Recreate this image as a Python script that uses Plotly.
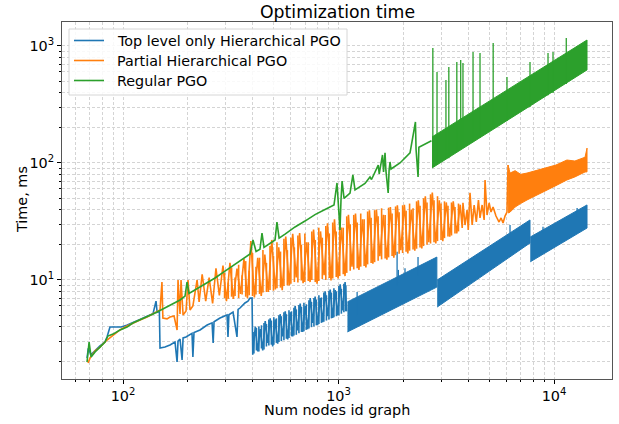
import plotly.graph_objects as go

BLUE = "#1f77b4"
ORANGE = "#ff7f0e"
GREEN = "#2ca02c"

# ---------------- data ----------------
# Top level only Hierarchical PGO (blue): sparse part
blue_x = [68.1, 69.0, 71.1, 74.2, 78.2, 82.5, 84.3, 87.0, 98.0, 104.0, 111, 119.9, 129.3, 137.8,
          142.3, 144, 147.5, 148.5, 156.6, 165.2, 174.3, 178.2, 180, 183.9, 188, 190, 196, 209,
          211, 213.5, 227.7, 245.7, 259, 262, 264.5, 281.9, 304, 307, 310, 324, 338, 342, 349,
          368, 380, 388.6, 397]
blue_y = [2.15, 2.6, 2.3, 2.5, 2.73, 2.95, 3.26, 3.96, 3.96, 4.1, 4.35, 4.6, 4.9, 5.15,
          6.6, 5.3, 5.4, 2.62, 2.67, 2.78, 2.95, 1.99, 3.0, 3.13, 2.07, 3.2, 3.26, 3.5,
          2.2, 3.55, 3.74, 4.12, 4.3, 2.89, 4.4, 4.73, 5.02, 3.26, 5.05, 5.32, 3.26, 5.6, 5.76,
          6.36, 6.6, 7.0, 7.0]
blue_seg1_x = [400, 411, 422, 433, 445, 457, 469, 482, 495, 508, 522, 536, 551, 566, 581, 597,
               613, 629, 646, 664, 682, 700, 719, 739, 759, 779, 800, 822, 844, 867, 891, 915,
               940, 965, 991, 1018, 1045, 1073, 1090]
blue_seg1_y = [2.3, 4.0, 2.45, 3.8, 2.5, 4.45, 2.9, 4.7, 2.7, 4.6, 2.85, 5.1, 3.3, 5.4, 3.1, 5.3,
               3.3, 6.0, 3.7, 6.3, 3.6, 6.0, 3.8, 7.0, 4.3, 7.2, 4.1, 7.0, 4.35, 8.0, 4.9, 8.3,
               4.75, 8.2, 5.0, 9.2, 5.5, 9.6, 5.4]
blue_stroke_x = [405, 416, 427, 439, 451, 463, 475, 488, 501, 515, 529, 543, 558, 573, 589, 605,
                 621, 637, 655, 673, 691, 709, 729, 749, 769, 789, 811, 833, 855, 879, 903, 927,
                 952, 978, 1004, 1031, 1059, 1081]
blue_stroke_lo = [2.35, 2.5, 2.45, 2.6, 2.55, 2.7, 2.75, 2.8, 2.8, 2.9, 2.95, 3.0, 3.05, 3.15,
                  3.2, 3.3, 3.35, 3.4, 3.5, 3.6, 3.65, 3.75, 3.85, 3.95, 4.0, 4.1, 4.2, 4.3, 4.4,
                  4.5, 4.6, 4.7, 4.8, 4.9, 5.0, 5.15, 5.3, 5.4]
blue_stroke_hi = [3.6, 3.9, 4.0, 4.1, 4.3, 4.2, 4.6, 4.5, 4.8, 4.7, 5.0, 4.9, 5.3, 5.1, 5.5, 5.4,
                  5.8, 5.6, 6.1, 5.9, 6.4, 6.2, 6.7, 6.5, 7.0, 6.8, 7.4, 7.1, 7.8, 7.4, 8.1, 7.8,
                  8.5, 8.0, 8.9, 8.4, 9.3, 9.0]
# dense blue bands (lower / upper envelopes)
blue_band2_x = [1100, 1600, 2860]
blue_band2_lo = [3.6, 5.1, 8.7]
blue_band2_hi = [6.5, 9.2, 15.7]
blue_band3_x = [2870, 4500, 7738]
blue_band3_lo = [5.87, 10.4, 20.7]
blue_band3_hi = [10.0, 17.1, 32.6]
blue_band4_x = [7760, 10500, 14230]
blue_band4_lo = [14.3, 19.9, 27.8]
blue_band4_hi = [23.3, 31.9, 43.8]
blue_spike_x = [1220, 1870, 1896, 2035, 2339, 6250, 8890, 12800]
blue_spike_lo = [5.0, 9.0, 9.5, 10.0, 11.0, 25.0, 25.0, 35.0]
blue_spike_hi = [7.9, 17.4, 12.2, 12.6, 15.7, 29.5, 28.5, 41.2]

# Partial Hierarchical PGO (orange)
orange_x = [68.8, 70.3, 74.2, 78.2, 84.3, 89.9, 96.8, 104.4, 111, 119.9, 129.3, 137.8, 144,
            148.5, 151.6, 153.1, 160.1, 165.2, 172.5, 178.2, 180, 183.9, 185.9, 190, 196.1,
            200.3, 204.6, 211, 220.7, 225.5]
orange_y = [1.95, 2.15, 2.48, 2.67, 3.07, 3.39, 3.74, 4.05, 4.29, 4.55, 4.83, 5.12, 5.32,
            5.54, 9.61, 4.73, 4.65, 4.83, 4.92, 3.74, 10.0, 5.12, 10.0, 5.02, 5.43,
            10.0, 5.54, 6.0, 10.0, 6.49]
orange_mid_x = [233, 242, 251, 260.5, 270, 280, 291, 302, 313.5, 325,
                338, 351, 364, 378, 392, 407, 422, 438, 455, 472,
                490, 509, 528, 548, 569, 590, 613, 636, 660, 685,
                711, 738, 766, 795, 825, 857, 889, 923, 958, 995,
                1032, 1072, 1112, 1155, 1199, 1244, 1291, 1340, 1391, 1444,
                1499, 1556, 1615, 1677, 1740, 1806, 1875, 1947, 2021, 2097,
                2177, 2260, 2346, 2435, 2528, 2624, 2724, 2827, 2935, 3046,
                3162, 3282, 3407, 3537, 3671]
orange_mid_y = [11.2, 6.6, 10.5, 6.3, 12.6, 7.4, 13.3, 6.6, 14.0, 6.9,
                12.5, 7.6, 15.2, 7.0, 21.5, 7.1, 15.5, 7.3, 16.5, 7.9,
                22, 8.3, 19, 8.2, 23.5, 9.0, 24.8, 10.5, 25.2, 9.4,
                21, 9.6, 27, 9.3, 26, 11, 30.5, 9.9, 33, 10.3,
                28, 10.8, 36, 13, 37, 12.2, 33, 12.8, 39.5, 13.8,
                40, 16, 36, 14.9, 42, 15.5, 43.5, 18, 44, 16.9,
                40, 17.8, 48, 18.6, 52, 21, 56, 20.5, 48, 21.5,
                46, 23.5, 47, 25, 44]
orange_stroke_x = [296, 308, 319, 331, 344, 357, 371, 385, 399, 414,
                   430, 446, 463, 481, 499, 518, 538, 558, 579, 601,
                   624, 648, 672, 698, 724, 752, 780, 810, 841, 873,
                   906, 940, 976, 1013, 1052, 1092, 1133, 1177, 1221, 1268,
                   1315, 1365, 1417, 1471, 1527, 1585, 1646, 1708, 1773, 1840,
                   1911, 1984, 2059, 2137, 2218, 2303, 2390, 2481, 2575, 2673,
                   2775, 2880, 2990, 3103, 3221, 3344, 3471, 3603]
orange_stroke_lo = [7.0, 6.9, 7.2, 7.3, 7.0, 7.5, 7.2, 7.4, 7.3, 7.5,
                    7.6, 7.8, 7.9, 8.2, 8.1, 8.5, 8.6, 8.9, 9.0, 9.3,
                    9.6, 9.5, 9.9, 9.6, 9.8, 10.0, 9.6, 9.8, 10.2, 10.0,
                    10.4, 10.3, 10.6, 10.8, 11.2, 11.5, 12.0, 12.3, 12.6, 13.0,
                    13.2, 13.6, 14.0, 14.2, 14.6, 15.0, 15.3, 15.6, 16.0, 16.3,
                    16.8, 17.0, 17.4, 17.8, 18.2, 18.5, 19.0, 19.5, 20.0, 20.5,
                    21.0, 21.5, 22.0, 22.8, 23.5, 24.0, 25.0, 26.0]
orange_stroke_hi = [11.5, 9.5, 12.8, 10.5, 13.5, 11, 14.5, 12, 17, 13,
                    15.5, 18, 14, 19.5, 16, 21, 17.5, 22.5, 18, 23,
                    19, 24, 20, 25, 21, 26, 22, 28, 23, 29,
                    25, 31, 26, 33, 28, 35, 30, 36, 31, 37,
                    33, 38.5, 34, 39.5, 35, 41, 36, 41.5, 37, 42.5,
                    38, 43.5, 39, 45, 41, 47, 43, 50, 46, 54,
                    48, 52, 45, 47, 43, 46, 42, 45]
orange_late_x = [3750, 3780, 3864, 3950, 4000, 4076, 4170, 4260, 4360, 4460, 4536, 4640, 4740,
                 4786, 4890, 5000, 5100, 5214, 5380, 5560, 5680, 5800, 5925, 6050, 6120]
orange_late_y = [27.8, 45.6, 29.5, 39.7, 26.8, 55.5, 29.5, 43.75, 31.3, 48.3, 33.9, 43.75, 32.6,
                 71.6, 35.9, 45.6, 38.1, 42.1, 35.2, 31.3, 33.9, 30.7, 35.2, 38.1, 96.1]
orange_band_x = [6120, 6250, 6600, 7000, 7494, 8200, 9290, 10200, 11480, 12500, 13930, 14230]
orange_band_lo = [37.4, 38, 42, 45, 48.3, 53, 58.8, 64, 71.6, 76, 83.8, 84]
orange_band_hi = [96, 82, 86, 80, 82, 86, 92, 96, 106, 104, 112, 134]

# Regular PGO (green)
green_x = [68.1, 69.6, 71.1, 74.2, 78.2, 82.5, 85.1, 89.9, 96.8, 104.4, 111, 119.9, 129.3,
           137.8, 144, 156.6, 168.8, 183.9, 194, 198.2, 202.4, 215.8, 240.2, 267.3, 297.4,
           331, 368, 388.6, 401, 414.5, 432, 441.6, 451, 481, 507.6, 518, 530, 565, 628.5,
           699, 778, 866, 953, 984, 1000, 1016, 1027, 1039, 1061, 1131, 1166, 1193, 1327,
           1400, 1423, 1529, 1545, 1600, 1618, 1644, 1660, 1700, 1717, 1734, 1752, 1929,
           2147, 2275, 2290, 2340, 2360, 2700]
green_y = [1.99, 2.95, 2.20, 2.43, 2.67, 2.95, 3.32, 3.45, 3.74, 3.96, 4.29, 4.55, 4.83,
           5.12, 5.32, 5.76, 6.24, 6.75, 7.29, 9.61, 7.67, 8.21, 9.24, 10.4, 11.9,
           13.6, 15.6, 16.7, 22.0, 17.5, 18.3, 25.2, 19.0, 20.5, 22.0, 31.3, 22.8, 24.7, 28.4,
           31.9, 36.2, 40.0, 43.75, 67.5, 46.4, 26.8, 48.3, 70.0, 49.8, 55.4, 79.0, 58.8, 66.9,
           75.9, 72.3, 96.0, 80.6, 117, 84.0, 122, 85.5, 55.5, 87.1, 102, 88.8, 100,
           122, 224, 131, 75.9, 136, 155]
green_band_x = [2716, 6200, 14230]
green_band_lo = [90.6, 237, 624]
green_band_hi = [167, 432, 1125]
green_spike_x = [2740, 2865, 3152, 3250, 3540, 3690, 3780, 4210, 4536, 5220, 6050, 7738, 9380, 9895, 11400]
green_spike_lo = [92.5, 96, 108, 110, 124, 132, 136, 151, 164, 203, 229, 301, 380, 397, 473]
green_spike_hi = [961, 600, 512, 662, 730, 759, 716, 889, 872, 1061, 543, 730, 872, 889, 1170]

x_minor = [60, 70, 80, 90, 200, 300, 400, 500, 600, 700, 800, 900,
           2000, 3000, 4000, 5000, 6000, 7000, 8000, 9000]
y_minor = [2, 3, 4, 5, 6, 7, 8, 9, 20, 30, 40, 50, 60, 70, 80, 90,
           200, 300, 400, 500, 600, 700, 800, 900]
x_major = [100, 1000, 10000]
y_major = [10, 100, 1000]
legend_names = ["Top level only Hierarchical PGO", "Partial Hierarchical PGO", "Regular PGO"]
legend_colors = [BLUE, ORANGE, GREEN]

# ---------------- figure ----------------
W, H = 619, 424
L, R, T, B = 62, 7, 22, 45
PW, PH = W - L - R, H - T - B
LW = 1.6
fig = go.Figure()


def band(xs, lo, hi, color):
    return go.Scatter(x=xs + xs[::-1], y=hi + lo[::-1], mode="lines", fill="toself",
                      fillcolor=color, line=dict(color=color, width=1),
                      showlegend=False, hoverinfo="skip")


def spikes(xs, lo, hi, color, width=1.3):
    sx, sy = [], []
    for a, b, c in zip(xs, lo, hi):
        sx += [a, a, None]
        sy += [b, c, None]
    return go.Scatter(x=sx, y=sy, mode="lines", line=dict(color=color, width=width),
                      showlegend=False, hoverinfo="skip")


# blue
fig.add_trace(spikes(blue_stroke_x, blue_stroke_lo, blue_stroke_hi, BLUE, LW))
fig.add_trace(go.Scatter(x=blue_x + blue_seg1_x, y=blue_y + blue_seg1_y, mode="lines",
                         line=dict(color=BLUE, width=LW), showlegend=False))
fig.add_trace(band(blue_band2_x, blue_band2_lo, blue_band2_hi, BLUE))
fig.add_trace(band(blue_band3_x, blue_band3_lo, blue_band3_hi, BLUE))
fig.add_trace(band(blue_band4_x, blue_band4_lo, blue_band4_hi, BLUE))
fig.add_trace(spikes(blue_spike_x, blue_spike_lo, blue_spike_hi, BLUE))
# orange
fig.add_trace(spikes(orange_stroke_x, orange_stroke_lo, orange_stroke_hi, ORANGE, LW))
fig.add_trace(go.Scatter(x=orange_x + orange_mid_x + orange_late_x,
                         y=orange_y + orange_mid_y + orange_late_y, mode="lines",
                         line=dict(color=ORANGE, width=LW), showlegend=False))
fig.add_trace(band(orange_band_x, orange_band_lo, orange_band_hi, ORANGE))
# green
fig.add_trace(go.Scatter(x=green_x, y=green_y, mode="lines",
                         line=dict(color=GREEN, width=LW), showlegend=False))
fig.add_trace(band(green_band_x, green_band_lo, green_band_hi, GREEN))
fig.add_trace(spikes(green_spike_x, green_spike_lo, green_spike_hi, GREEN))

FONT = "DejaVu Sans"
grid = dict(showgrid=True, gridcolor="#d4d4d4", gridwidth=1, griddash="3px,2px")


def px_x(p):  # pixel -> paper x
    return (p - L) / PW


def px_y(p):  # pixel -> paper y
    return 1 - (p - T) / PH


annotations = [
    dict(text="Optimization time", x=0.5, y=px_y(12), xref="paper", yref="paper",
         xanchor="center", yanchor="middle", showarrow=False,
         font=dict(size=17.3, family=FONT, color="black")),
    dict(text="Num nodes id graph", x=0.5, y=px_y(410), xref="paper", yref="paper",
         xanchor="center", yanchor="middle", showarrow=False,
         font=dict(size=14.4, family=FONT, color="black")),
    dict(text="Time, ms", x=px_x(22), y=px_y(200), xref="paper", yref="paper",
         xanchor="center", yanchor="middle", showarrow=False, textangle=-90,
         font=dict(size=14.4, family=FONT, color="black")),
]
shapes = [
    dict(type="rect", xref="paper", yref="paper", x0=px_x(69), x1=px_x(347),
         y0=px_y(95), y1=px_y(29), fillcolor="rgba(255,255,255,0.85)",
         line=dict(color="#d6d6d6", width=1), layer="above"),
]
for i, (name, col) in enumerate(zip(legend_names, legend_colors)):
    yy = 40.5 + 20 * i
    shapes.append(dict(type="line", xref="paper", yref="paper", x0=px_x(74), x1=px_x(104),
                       y0=px_y(yy), y1=px_y(yy), line=dict(color=col, width=1.6), layer="above"))
    annotations.append(dict(text=name, x=px_x(115), y=px_y(yy), xref="paper", yref="paper",
                            xanchor="left", yanchor="middle", showarrow=False,
                            font=dict(size=14.3, family=FONT, color="black")))

fig.update_layout(
    width=W, height=H,
    margin=dict(l=L, r=R, t=T, b=B, autoexpand=False),
    paper_bgcolor="white", plot_bgcolor="white",
    font=dict(family=FONT, size=14, color="black"),
    showlegend=False,
    annotations=annotations, shapes=shapes,
)
fig.update_xaxes(type="log", range=[1.7169, 4.2691], automargin=False,
                 tickmode="array", tickvals=x_major,
                 ticktext=["10<sup>2</sup>", "10<sup>3</sup>", "10<sup>4</sup>"],
                 ticks="outside", ticklen=4, tickcolor="black", tickfont=dict(size=14.4),
                 showline=True, mirror=True, linecolor="#555", linewidth=1,
                 minor=dict(tickmode="array", tickvals=x_minor, ticks="outside", ticklen=2,
                            tickcolor="black", **grid),
                 zeroline=False, **grid)
fig.update_yaxes(type="log", range=[0.1538, 3.205], automargin=False,
                 tickmode="array", tickvals=y_major,
                 ticktext=["10<sup>1</sup>", "10<sup>2</sup>", "10<sup>3</sup>"],
                 ticks="outside", ticklen=4, tickcolor="black", tickfont=dict(size=14.4),
                 showline=True, mirror=True, linecolor="#555", linewidth=1,
                 minor=dict(tickmode="array", tickvals=y_minor, ticks="outside", ticklen=2,
                            tickcolor="black", **grid),
                 zeroline=False, **grid)

fig.write_html("out.html", config={"displayModeBar": False},
               post_script="document.body.style.margin='0';document.body.style.overflow='hidden';")
